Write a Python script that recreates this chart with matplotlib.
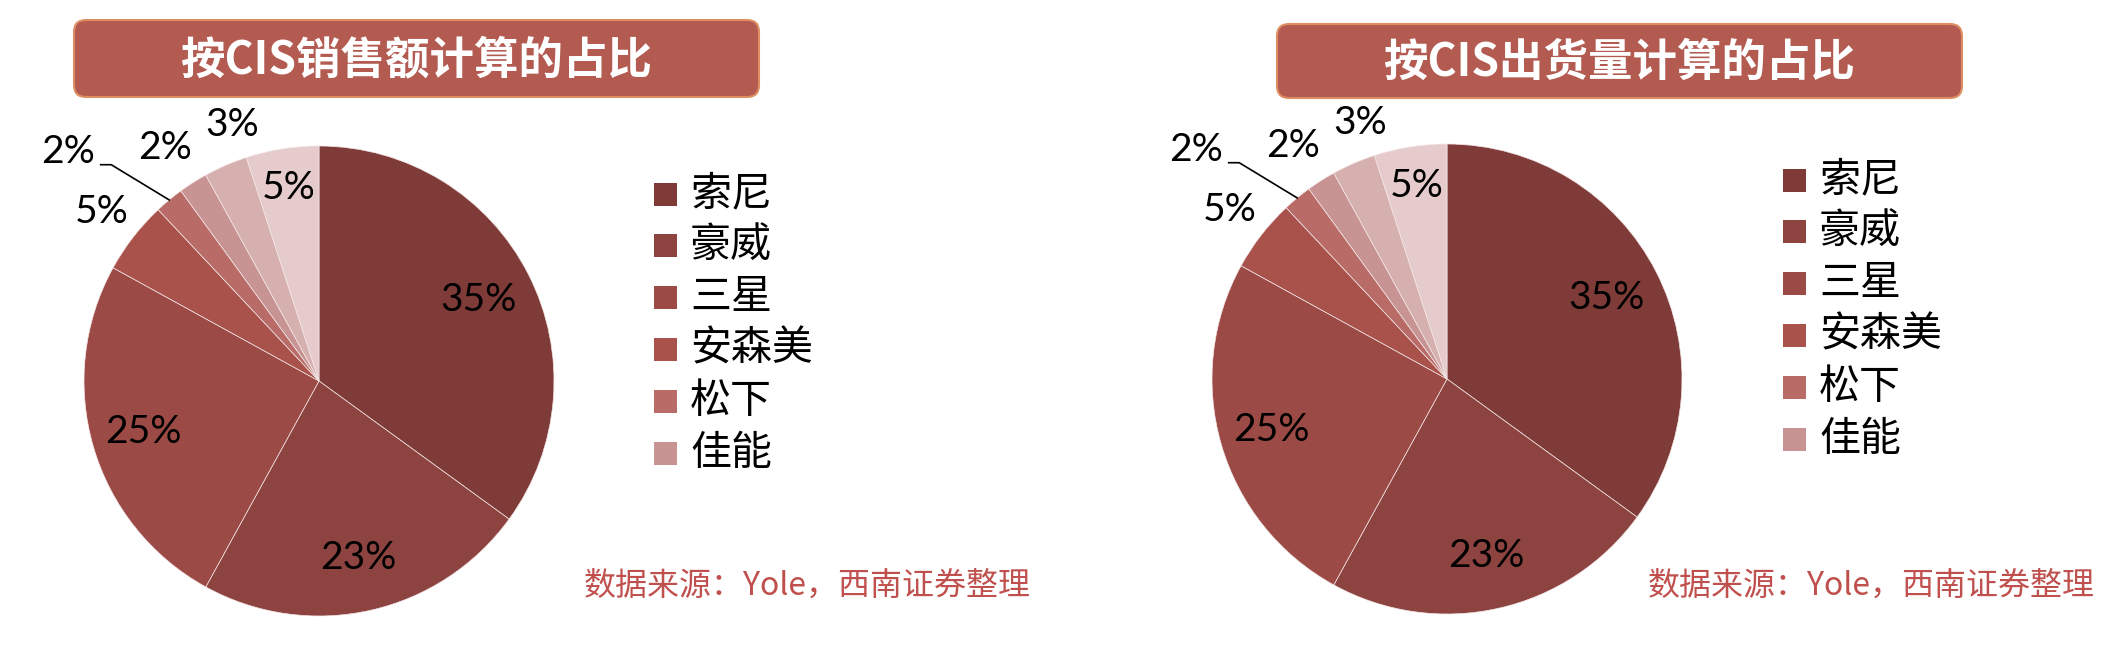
import numpy as np
import matplotlib
matplotlib.use("Agg")
import matplotlib.pyplot as plt
from matplotlib.patches import FancyBboxPatch, Rectangle

# ---------------- data ----------------
legend_names = ['索尼', '豪威', '三星', '安森美', '松下', '佳能']
sales_share = [35, 23, 25, 5, 2, 2, 3, 5]       # 按CIS销售额计算
shipment_share = [35, 23, 25, 5, 2, 2, 3, 5]    # 按CIS出货量计算
titles = ['按CIS销售额计算的占比', '按CIS出货量计算的占比']
source_text = '数据来源：Yole，西南证券整理'

colors = ['#7f3b38', '#8d4340', '#9b4a46', '#a9524c', '#b86b67', '#c89493', '#d6b0ae', '#e5cbcb']

W, H = 2118, 650
CJK = ['Noto Sans CJK SC', 'DejaVu Sans']
NUM = ['Lato', 'DejaVu Sans']

fig = plt.figure(figsize=(W / 100, H / 100), dpi=100)
fig.patch.set_facecolor('white')

over = fig.add_axes([0, 0, 1, 1])
over.set_xlim(0, W)
over.set_ylim(H, 0)
over.axis('off')

R = 235.0
S = 300.0

panels = [
    dict(values=sales_share, title=titles[0], cx=319, cy=381,
         box=(74, 20, 685, 77), leg_x=654, leg_y=194, src_x=584),
    dict(values=shipment_share, title=titles[1], cx=1447, cy=379,
         box=(1277, 24, 685, 74), leg_x=1783, leg_y=180, src_x=1648),
]

# label layout per wedge: (kind, radius, angle offset deg)
label_layout = [('in', 0.76, 0), ('in', 0.77, 0), ('in', 0.78, 0), ('out', 1.17, 0),
                ('lead', 1.445, 8), ('out', 1.19, 1.1), ('out', 1.15, -4.7), ('in', 0.83, 0)]

for p in panels:
    # title box
    bx, by, bw, bh = p['box']
    over.add_patch(FancyBboxPatch((bx, by), bw, bh,
                                  boxstyle='round,pad=0,rounding_size=12',
                                  facecolor='#b35a51', edgecolor='#dd8f63', lw=1.5))
    over.text(bx + bw / 2, by + bh / 2 + 2, p['title'], color='white', fontsize=32,
              fontweight='heavy', family=CJK, ha='center', va='center')

    # legend
    for i, name in enumerate(legend_names):
        yy = p['leg_y'] + i * 51.8
        over.add_patch(Rectangle((p['leg_x'], yy - 11.5), 23, 23, facecolor=colors[i], edgecolor='none'))
        over.text(p['leg_x'] + 36, yy, name, fontsize=29.5, family=CJK, ha='left', va='center',
                  color='black')

    # source
    over.text(p['src_x'], 586, source_text, fontsize=23, family=CJK, color='#c0504d',
              ha='left', va='center')

    # pie
    ax = fig.add_axes([(p['cx'] - S) / W, (H - p['cy'] - S) / H, 2 * S / W, 2 * S / H])
    wedges, _ = ax.pie(p['values'], colors=colors, startangle=90, counterclock=False,
                       radius=1.0, wedgeprops=dict(edgecolor='#f3e6e6', linewidth=0.5))
    ax.set_xlim(-S / R, S / R)
    ax.set_ylim(-S / R, S / R)
    ax.set_aspect('auto')
    ax.axis('off')

    for w, v, lay in zip(wedges, p['values'], label_layout):
        mid = np.deg2rad((w.theta1 + w.theta2) / 2 + lay[2])
        r = lay[1]
        x, y = r * np.cos(mid), r * np.sin(mid)
        ax.text(x, y, f'{v}%', fontsize=28, family=NUM, ha='center', va='center', color='black')
        if lay[0] == 'lead':
            emid = np.deg2rad((w.theta1 + w.theta2) / 2)
            ex, ey = np.cos(emid), np.sin(emid)
            ax.plot([x + 0.138, x + 0.183, ex], [y - 0.054, y - 0.054, ey],
                    color='black', lw=1.2, clip_on=False)

fig.savefig('out.png', dpi=100, facecolor='white')
